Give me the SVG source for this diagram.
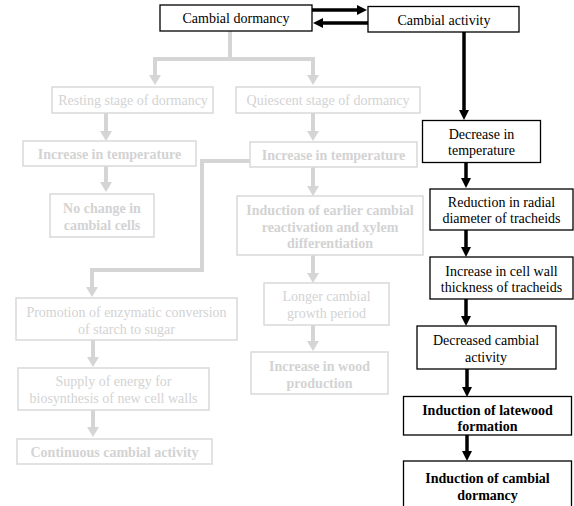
<svg xmlns="http://www.w3.org/2000/svg" width="574" height="506" viewBox="0 0 574 506">
<defs>
<marker id="hb" viewBox="0 0 10 10" refX="0" refY="5" markerWidth="10" markerHeight="10" markerUnits="userSpaceOnUse" orient="auto"><path d="M0,0 L10,5 L0,10 z" fill="#000"/></marker>
<marker id="hg" viewBox="0 0 10 12" refX="0" refY="6" markerWidth="10" markerHeight="12" markerUnits="userSpaceOnUse" orient="auto"><path d="M0,0 L10,6 L0,12 z" fill="#d5d5d5"/></marker>
</defs>
<style>
text{font-family:"Liberation Serif","Times New Roman",serif;font-size:14px;text-anchor:middle}
.b{fill:#fff;stroke:#000;stroke-width:1.3}
.g{fill:#fff;stroke:#d9d9d9;stroke-width:1.5}
.tb{fill:#000}
.tg{fill:#d3d3d3}
.bold{font-weight:bold}
.cb{fill:none;stroke:#000;stroke-width:3.5;marker-end:url(#hb)}
.cg{fill:none;stroke:#d5d5d5;stroke-width:4;marker-end:url(#hg)}
.cgn{fill:none;stroke:#d5d5d5;stroke-width:4}
</style>
<rect width="574" height="506" fill="#fff"/>
<g id="connectors">
<path class="cb" d="M312,10 H357"/>
<path class="cb" d="M368,23 H323"/>
<path class="cb" d="M464,32 V110"/>
<path class="cb" d="M466,162 V178"/>
<path class="cb" d="M466,230 V247"/>
<path class="cb" d="M466,299 V316"/>
<path class="cb" d="M467,369 V387"/>
<path class="cb" d="M467,435 V451"/>
<path class="cgn" d="M230,31 V59 M155,59 H313"/>
<path class="cg" d="M155,57 V75"/>
<path class="cg" d="M313,57 V75"/>
<path class="cg" d="M106,113 V131"/>
<path class="cg" d="M106,166 V182"/>
<path class="cg" d="M313,113 V131"/>
<path class="cg" d="M313,167 V186"/>
<path class="cg" d="M313,255 V273"/>
<path class="cg" d="M313,325 V341"/>
<path class="cg" d="M250,161 H202 V270 H92 V287"/>
<path class="cg" d="M93,340 V357"/>
<path class="cg" d="M93,410 V427"/>
</g>
<g id="cambial-dormancy"><rect class="b" x="160" y="5" width="152" height="26"/><text class="tb" x="236" y="23">Cambial dormancy</text></g>
<g id="cambial-activity"><rect class="b" x="368" y="6.5" width="151" height="25.5"/><text class="tb" x="444" y="24.5">Cambial activity</text></g>
<g id="resting"><rect class="g" x="52" y="87" width="161" height="26"/><text class="tg" x="133" y="105">Resting stage of dormancy</text></g>
<g id="quiescent"><rect class="g" x="236" y="87" width="184" height="26"/><text class="tg" x="328" y="105">Quiescent stage of dormancy</text></g>
<g id="increase-temp-left"><rect class="g" x="23" y="141" width="173" height="25"/><text class="tg bold" x="109.5" y="158.5">Increase in temperature</text></g>
<g id="no-change"><rect class="g" x="50" y="194" width="104" height="43"/><text class="tg bold" x="102" y="213">No change in</text><text class="tg bold" x="102" y="230">cambial cells</text></g>
<g id="increase-temp-right"><rect class="g" x="250" y="142" width="167" height="25"/><text class="tg bold" x="333.5" y="159.5">Increase in temperature</text></g>
<g id="induction-earlier"><rect class="g" x="237" y="196" width="186" height="59"/><text class="tg bold" x="330" y="215">Induction of earlier cambial</text><text class="tg bold" x="330" y="231.5">reactivation and xylem</text><text class="tg bold" x="330" y="248">differentiation</text></g>
<g id="longer-growth"><rect class="g" x="264" y="283" width="125" height="42"/><text class="tg" x="326.5" y="300.5">Longer cambial</text><text class="tg" x="326.5" y="317.5">growth period</text></g>
<g id="wood-production"><rect class="g" x="251" y="352" width="137" height="42"/><text class="tg bold" x="319.5" y="371">Increase in wood</text><text class="tg bold" x="319.5" y="387.5">production</text></g>
<g id="promotion"><rect class="g" x="16" y="298" width="221" height="42"/><text class="tg" x="126.5" y="316.5">Promotion of enzymatic conversion</text><text class="tg" x="126.5" y="333.5">of starch to sugar</text></g>
<g id="supply"><rect class="g" x="18" y="368" width="191" height="42"/><text class="tg" x="113.5" y="386">Supply of energy for</text><text class="tg" x="113.5" y="402.5">biosynthesis of new cell walls</text></g>
<g id="continuous"><rect class="g" x="17" y="439" width="195" height="25"/><text class="tg bold" x="114.5" y="456.5">Continuous cambial activity</text></g>
<g id="decrease-temp"><rect class="b" x="422.5" y="120.5" width="118" height="42"/><text class="tb" x="481.5" y="138.5">Decrease in</text><text class="tb" x="481.5" y="155">temperature</text></g>
<g id="reduction"><rect class="b" x="430" y="189" width="143" height="41"/><text class="tb" x="501.5" y="206.5">Reduction in radial</text><text class="tb" x="501.5" y="222.5">diameter of tracheids</text></g>
<g id="increase-wall"><rect class="b" x="430" y="257" width="143" height="42"/><text class="tb" x="501.5" y="276">Increase in cell wall</text><text class="tb" x="501.5" y="292">thickness of tracheids</text></g>
<g id="decreased-activity"><rect class="b" x="417" y="326" width="139" height="43"/><text class="tb" x="486" y="345">Decreased cambial</text><text class="tb" x="486" y="361.5">activity</text></g>
<g id="latewood"><rect class="b" x="403.5" y="396.5" width="168" height="38.5"/><text class="tb bold" x="487.5" y="415">Induction of latewood</text><text class="tb bold" x="487.5" y="430.5">formation</text></g>
<g id="induction-dormancy"><rect class="b" x="403.5" y="461" width="168" height="50"/><text class="tb bold" x="487.5" y="483">Induction of cambial</text><text class="tb bold" x="487.5" y="500">dormancy</text></g>
</svg>
